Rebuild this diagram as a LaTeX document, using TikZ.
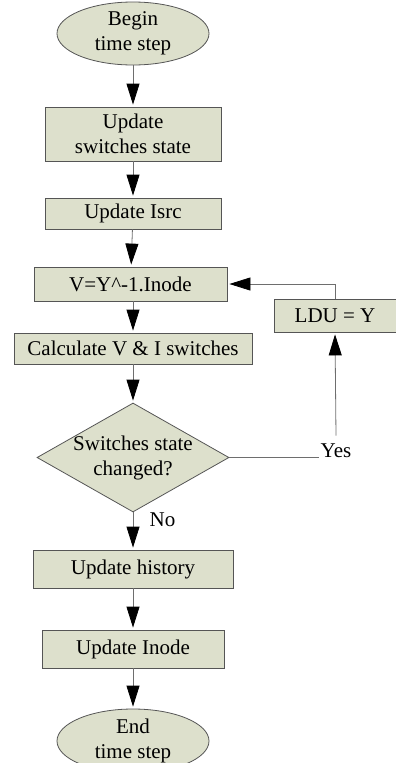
\documentclass[tikz,border=0pt]{standalone}
\usepackage{fontspec}
\setmainfont{Liberation Serif}
\usetikzlibrary{shapes.geometric,arrows.meta}
\definecolor{boxfill}{RGB}{221,224,204}
\definecolor{boxline}{RGB}{85,85,85}
\definecolor{wire}{RGB}{110,110,110}
\begin{document}
\begin{tikzpicture}[x=1pt,y=1pt,
  >={Triangle[length=21pt,width=13pt,color=black]},
  every node/.style={font=\fontsize{21}{25}\selectfont},
  term/.style={ellipse, draw=boxline, fill=boxfill, line width=0.8pt, minimum width=152pt, minimum height=63pt, inner sep=0pt, align=center},
  proc/.style={rectangle, draw=boxline, fill=boxfill, line width=0.8pt, inner sep=0pt, align=center},
  decision/.style={diamond, draw=boxline, fill=boxfill, line width=0.8pt, inner sep=0pt, minimum width=192pt, minimum height=109pt},
  link/.style={->, draw=wire, line width=0.8pt, shorten >=2pt}]
\useasboundingbox (0,0) rectangle (396,-763);
% main column
\node[term] (begin) at (133,-33.5) {Begin\\time step};
\node[proc, minimum width=176pt, minimum height=54pt] (sw) at (133,-134) {Update\\switches state};
\node[proc, minimum width=176pt, minimum height=31pt] (isrc) at (133,-213.5) {Update Isrc};
\node[proc, minimum width=193pt, minimum height=34pt] (solve) at (130.5,-284) {V=Y\^{}-1.Inode};
\node[proc, minimum width=238pt, minimum height=31pt] (calc) at (133,-348.5) {Calculate V \& I switches};
\node[decision, label={[align=center]center:Switches state\\changed?}] (chg) at (133,-457.5) {};
\node[proc, minimum width=200pt, minimum height=38pt] (hist) at (133,-569) {Update history};
\node[proc, minimum width=182pt, minimum height=38pt] (inode) at (133,-649) {Update Inode};
\node[term, minimum height=64pt] (end) at (133,-741) {End\\time step};
% loop back
\node[proc, minimum width=122pt, minimum height=33pt] (ldu) at (335,-315.5) {LDU = Y};
\node[inner xsep=2pt, inner ysep=8pt, anchor=base] (yes) at (336,-457.5) {Yes};

\draw[link] (begin) -- (sw);
\draw[link] (sw) -- (isrc);
\draw[link] (isrc) -- (solve);
\draw[link] (solve.south -| calc.north) -- (calc);
\draw[link] (calc) -- (chg);
\draw[link] (chg) -- node[pos=0.21, right=13pt] {No} (hist);
\draw[link] (hist) -- (inode);
\draw[link] (inode) -- (end);
\draw[wire, line width=0.8pt] (chg.east) -- (yes.base west);
\draw[link] (yes.north) -- (ldu.south);
\draw[link] (ldu.north) |- (solve.east);
\end{tikzpicture}
\end{document}
